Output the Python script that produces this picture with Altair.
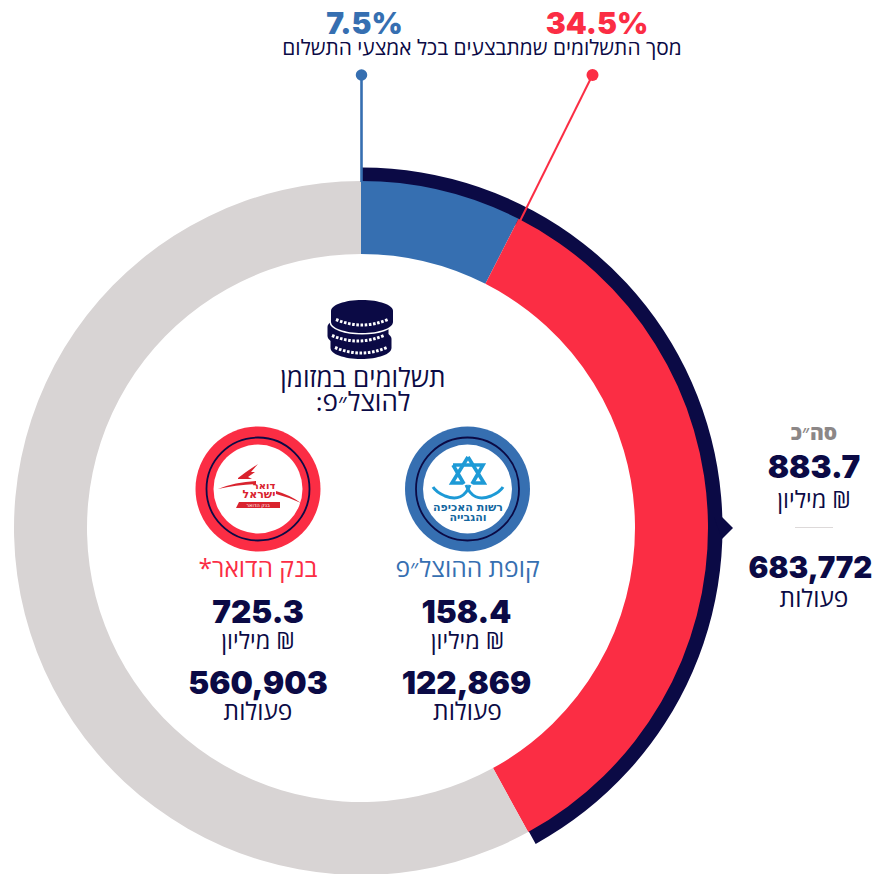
import altair as alt
import pandas as pd

# --- values ---
segment_names = ["קופת ההוצל״פ", "בנק הדואר", "שאר אמצעי התשלום"]
segment_shares = [7.5, 34.5, 58.0]
cash_total_share = [42.0]
pct_labels = ["7.5%", "34.5%"]
subtitle = "מסך התשלומים שמתבצעים בכל אמצעי התשלום"
center_title = ["תשלומים במזומן", "להוצל״פ:\u200f"]
col_names = ["קופת ההוצל״פ", "בנק הדואר*\u200f"]
amounts = ["158.4", "725.3"]
operations = ["122,869", "560,903"]
total_label = "סה״כ"
total_amount = "883.7"
total_ops = "683,772"
unit_money = "מיליון ₪"
unit_ops = "פעולות"

BLUE, RED, GREY, NAVY = "#366fb1", "#fb2d44", "#d8d4d4", "#0b0a45"
HEB, NUM = "Open Sans", "Inter"
OX, OY = 8, 8           # page margin
CX, CY = 361 - OX, 528 - OY
one = alt.Data(values=[{"a": 1}])
layers = []


def txt(s, x, y, size, color=NAVY, font=HEB, weight=400):
    layers.append(
        alt.Chart(pd.DataFrame({"t": [s]}))
        .mark_text(font=font, fontSize=size, fontWeight=weight, color=color,
                   align="center", baseline="middle")
        .encode(x=alt.value(x - OX), y=alt.value(y - OY), text="t:N")
    )


def shape(d, fill=None, stroke=None, sw=1.0, dash=None):
    """Decorative vector path, given in page pixels (size 4 = 1 unit per pixel)."""
    kw = {"shape": d, "size": 4, "opacity": 1}
    if fill:
        kw.update(filled=True, fill=fill)
    else:
        kw.update(filled=False, fill="transparent")
    kw.update(stroke=stroke if stroke else "transparent", strokeWidth=sw if stroke else 0)
    if dash:
        kw["strokeDash"] = dash
    layers.append(alt.Chart(one).mark_point(**kw).encode(x=alt.value(-OX), y=alt.value(-OY)))


def dot(x, y, d, color, stroke=None, sw=1.0):
    kw = {"shape": "circle", "size": d * d, "opacity": 1}
    if color:
        kw.update(filled=True, fill=color, strokeWidth=0)
    else:
        kw.update(filled=False, stroke=stroke, strokeWidth=sw)
    layers.append(alt.Chart(one).mark_point(**kw).encode(x=alt.value(x - OX), y=alt.value(y - OY)))


def line(x1, y1, x2, y2, color, w):
    layers.append(
        alt.Chart(one).mark_rule(color=color, strokeWidth=w).encode(
            x=alt.value(x1 - OX), y=alt.value(y1 - OY),
            x2=alt.value(x2 - OX), y2=alt.value(y2 - OY))
    )


theta_scale = alt.Scale(domain=[0, 100])

# navy outer arc
layers.append(
    alt.Chart(pd.DataFrame({"share": cash_total_share}))
    .mark_arc(radius=360.5, radius2=340, color=NAVY)
    .encode(theta=alt.Theta("share:Q", stack=True, scale=theta_scale),
            x=alt.value(CX + 1), y=alt.value(CY))
)
# main ring
df = pd.DataFrame({"name": segment_names, "share": segment_shares, "o": [0, 1, 2]})
layers.append(
    alt.Chart(df)
    .mark_arc(radius=347, radius2=274)
    .encode(theta=alt.Theta("share:Q", stack=True, scale=theta_scale),
            order=alt.Order("o:Q"),
            color=alt.Color("name:N", legend=None,
                            scale=alt.Scale(domain=segment_names, range=[BLUE, RED, GREY])),
            x=alt.value(CX), y=alt.value(CY))
)

# leaders
line(361.5, 75, 361.5, 182, BLUE, 2.6)
dot(361.5, 75, 11.5, BLUE)
line(592.5, 75, 520, 221, RED, 2)
dot(592.5, 75, 12, RED)

# pointer at the navy arc
shape("M714,517 L722,517 L733,528 L722,539 Z", fill=NAVY)

txt(pct_labels[0], 364.5, 25, 30, BLUE, NUM, 900)
txt(pct_labels[1], 597, 25, 30, RED, NUM, 900)
txt(subtitle, 482, 49, 20.9)

# coins
def coin(cx, cy, rx, ry, h):
    return (f"M{cx-rx},{cy} A{rx},{ry} 0 0 1 {cx+rx},{cy} L{cx+rx},{cy+h} "
            f"A{rx},{ry} 0 0 1 {cx-rx},{cy+h} Z")

def teeth(cx, cy, rx, ry):
    return f"M{cx-rx},{cy} Q{cx},{cy+2*ry} {cx+rx},{cy}"

shape(coin(361, 339, 30.5, 11, 9), fill=NAVY)
shape(teeth(361, 347.5, 26, 5.5), stroke="#ffffff", sw=3, dash=[2.6, 1.6])
shape(coin(358, 327, 30.5, 11, 9), fill=NAVY)
shape(teeth(358, 335.5, 26, 5.5), stroke="#ffffff", sw=3, dash=[2.6, 1.6])
shape(coin(362, 311, 31, 11, 11), fill="#ffffff", stroke="#ffffff", sw=3)
shape(coin(362, 311, 31, 11, 11), fill=NAVY)
shape(teeth(362, 319.5, 26, 5.5), stroke="#ffffff", sw=3, dash=[2.6, 1.6])

txt(center_title[0], 363, 379, 26)
txt(center_title[1], 363, 402.5, 26)

# badges
for bx, col in ((467.5, BLUE), (258, RED)):
    dot(bx, 489, 125, col)
    dot(bx, 489, 103, None, NAVY, 1.8)
    dot(bx, 489, 89, "#ffffff")

# tax-authority logo
LB = "#1d9ad6"
shape("M468,457 L484,483 L474,483 M468,457 L452,483 L462,483", stroke=LB, sw=3.6)
shape("M453,465 L483,465 L472,484 M453,465 L464,484", stroke=LB, sw=3.6)
shape("M433,487 Q436,492 445,496 Q463,503 470,485", stroke=LB, sw=3)
shape("M503,487 Q500,492 491,496 Q473,503 466,485", stroke=LB, sw=3)
txt("רשות האכיפה", 468, 508, 11, "#14679f", "DejaVu Sans", 700)
txt("והגבייה", 468, 518, 11, "#14679f", "DejaVu Sans", 700)

# postal-bank logo
LR = "#d9232e"
shape("M218,489 Q235,482 256,481 L256,484 Q235,485 218,489 Z", fill=LR)
shape("M276,491 Q290,495 301,503 Q288,497 276,494 Z", fill=LR)
shape("M238,478 L246,472 L258,464 L251,472 L255,472 L248,477 L252,479 L238,479 Z", fill=LR)
shape("M239,502 L280,502 L280,508 L236,508 Z", fill=LR)
txt("דואר", 264, 485.5, 10, LR, "DejaVu Sans", 700)
txt("ישראל", 259, 494.5, 11, LR, "DejaVu Sans", 700)
txt("בנק הדואר", 258, 505, 5, "#ffffff", "DejaVu Sans", 400)

# two columns
for i, (cx, col) in enumerate(((467.5, BLUE), (258, RED))):
    txt(col_names[i], cx, 570, 24.6, col)
    txt(amounts[i], cx - (1 if i == 0 else 0), 613.5, 31.5, NAVY, NUM, 900)
    txt(unit_money, cx, 642, 23.5)
    txt(operations[i], cx - (1 if i == 0 else 0), 684.5, 31.5, NAVY, NUM, 900)
    txt(unit_ops, cx, 713, 24.5)

# totals
txt(total_label, 814, 434, 21, "#8c8787", HEB, 800)
txt(total_amount, 814, 469, 31.5, NAVY, NUM, 900)
txt(unit_money, 814, 500.5, 23.5)
line(795, 527.5, 833, 527.5, "#ddd9d9", 1.2)
txt(total_ops, 810.5, 568.5, 29.5, NAVY, NUM, 900)
txt(unit_ops, 814, 600, 24.5)

chart = (
    alt.layer(*layers)
    .properties(width=866, height=866, padding=0,
                autosize=alt.AutoSizeParams(type="none"), background="#ffffff")
    .configure_view(stroke=None)
)
chart.save("out.html", embed_options={"renderer": "svg", "actions": False})
